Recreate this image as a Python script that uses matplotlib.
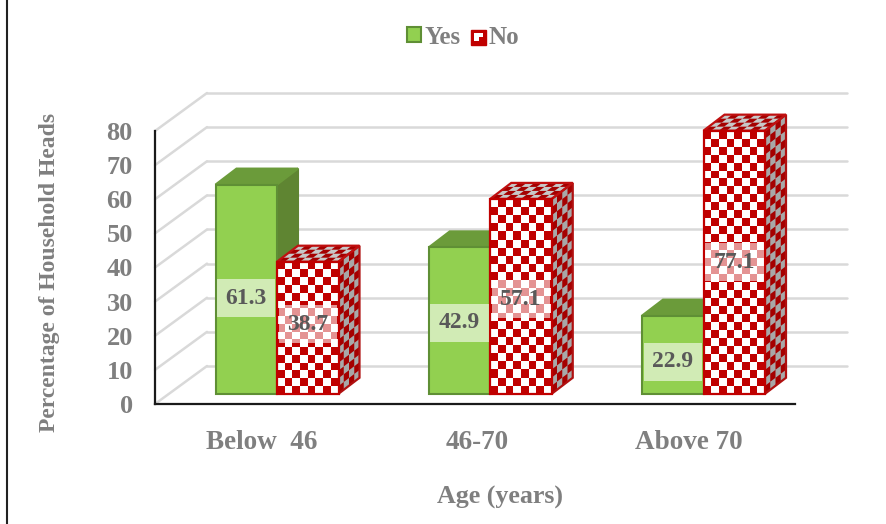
import matplotlib
matplotlib.use("Agg")
import matplotlib.pyplot as plt
from matplotlib.collections import PolyCollection
from matplotlib.patches import Polygon, Patch, Rectangle
from matplotlib.legend_handler import HandlerBase

plt.rcParams['font.family'] = ['Liberation Serif', 'DejaVu Serif']
plt.rcParams['font.weight'] = 'bold'

# Data
categories = ["Below  46", "46-70", "Above 70"]
yes_values = [61.3, 42.9, 22.9]
no_values = [38.7, 57.1, 77.1]
y_ticks = [0, 10, 20, 30, 40, 50, 60, 70, 80]

# Styles
GREEN, GREEN_EDGE, GREEN_TOP, GREEN_SIDE = '#92D050', '#5F8F35', '#6B9B3A', '#5F8532'
RED, RED_DARK = '#C00000', '#A50000'
TEXT_GRAY, LABEL_GRAY, GRID = '#7F7F7F', '#595959', '#D9D9D9'

W, H = 886, 524
fig = plt.figure(figsize=(W / 100, H / 100), dpi=100, facecolor='white')
ax = fig.add_axes([155 / W, (H - 404) / H, 640 / W, 273 / H])
ax.set_ylim(0, 80)
sx = 213.25                # pixels per category
sy = 273 / 80              # pixels per percentage point
ax.set_xlim((155 - 277) / sx, (795 - 277) / sx)
ax.patch.set_visible(False)

bar_w = 61.5 / sx
base = 3.0
depth_x, depth_y = 21 / sx, 16 / sy
wall_dx, wall_dy = 52 / sx, 38 / sy
x0, x1 = ax.get_xlim()

# Back wall gridlines and side wall diagonals
for v in y_ticks:
    ax.plot([x0 + wall_dx, x1 + wall_dx], [v + wall_dy, v + wall_dy], color=GRID, lw=1.8,
            clip_on=False, zorder=1, solid_capstyle='round')
    ax.plot([x0, x0 + wall_dx], [v, v + wall_dy], color=GRID, lw=1.8,
            clip_on=False, zorder=1, solid_capstyle='round')


def face(x, y, ux, uy, vx, vy, fc, ec, z):
    ax.add_patch(Polygon([(x, y), (x + ux, y + uy), (x + ux + vx, y + uy + vy), (x + vx, y + vy)],
                         closed=True, fc=fc, ec=ec, lw=1.5, clip_on=False, zorder=z, joinstyle='miter'))


def checks(x, y, ux, uy, vx, vy, nu, nv, c1, c2, edge, z):
    face(x, y, ux, uy, vx, vy, c2, 'none', z)
    polys = []
    for i in range(nu):
        for j in range(nv):
            if (i + j) % 2 == 0:
                a, b = i / nu, j / nv
                c, d = (i + 1) / nu, (j + 1) / nv
                polys.append([(x + a * ux + b * vx, y + a * uy + b * vy),
                              (x + c * ux + b * vx, y + c * uy + b * vy),
                              (x + c * ux + d * vx, y + c * uy + d * vy),
                              (x + a * ux + d * vx, y + a * uy + d * vy)])
    ax.add_collection(PolyCollection(polys, facecolors=c1, edgecolors='none', clip_on=False, zorder=z + 0.01),
                      autolim=False)
    ax.add_patch(Polygon([(x, y), (x + ux, y + uy), (x + ux + vx, y + uy + vy), (x + vx, y + vy)],
                         closed=True, fc='none', ec=edge, lw=1.6, clip_on=False, zorder=z + 0.02))


label_shift_yes = [-2.7, -0.6, -2.0]     # label offset from bar middle
label_shift_no = [1.0, -0.8, 0.0]

for i, (yv, nv) in enumerate(zip(yes_values, no_values)):
    z = 3 + i
    # green bar
    xl = i - bar_w
    face(xl + bar_w, base, depth_x, depth_y, 0, yv, GREEN_SIDE, GREEN_SIDE, z)
    face(xl, base + yv, bar_w, 0, depth_x, depth_y, GREEN_TOP, GREEN_TOP, z)
    ax.bar(xl, yv, bar_w, bottom=base, align='edge', color=GREEN, edgecolor=GREEN_EDGE, lw=1.5,
           clip_on=False, zorder=z + 0.1)
    # red checkered bar
    rows = max(2, int(round(nv * sy / 8)))
    z2 = z + 0.2
    checks(i + bar_w, base, depth_x, depth_y, 0, nv, 4, rows, RED_DARK, '#A8A8A8', '#B01010', z2)
    checks(i, base + nv, bar_w, 0, depth_x, depth_y, 8, 4, RED_DARK, '#C8C8C8', '#C01010', z2)
    checks(i, base, bar_w, 0, 0, nv, 8, rows, RED, 'white', RED, z2 + 0.1)
    # labels
    box = dict(boxstyle='square,pad=0.36', fc='white', ec='none', alpha=0.58)
    ax.text(i - bar_w / 2, base + yv / 2 + label_shift_yes[i], f"{yv}", ha='center', va='center', fontsize=17,
            color=LABEL_GRAY, bbox=box, zorder=20, clip_on=False)
    ax.text(i + bar_w / 2, base + nv / 2 + label_shift_no[i], f"{nv}", ha='center', va='center', fontsize=17,
            color=LABEL_GRAY, bbox=box, zorder=20, clip_on=False)

# Axes
for s in ('top', 'right'):
    ax.spines[s].set_visible(False)
for s in ('left', 'bottom'):
    ax.spines[s].set_linewidth(1.6)
    ax.spines[s].set_color('#1a1a1a')
    ax.spines[s].set_zorder(30)
ax.set_yticks(y_ticks)
ax.set_yticklabels([str(v) for v in y_ticks], fontsize=19, color=TEXT_GRAY)
ax.tick_params(axis='y', length=0, pad=16)
ax.set_xticks([-0.07, 0.94, 1.93])
ax.set_xticklabels(categories, fontsize=19.5, color=TEXT_GRAY)
ax.tick_params(axis='x', length=0, pad=19)

fig.text(50 / W, 1 - 272 / H, "Percentage of Household Heads", rotation=90, ha='center', va='center',
         fontsize=17, color=TEXT_GRAY)
fig.text(500 / W, 1 - 497 / H, "Age (years)", ha='center', va='center', fontsize=18.7, color=TEXT_GRAY)


class CheckHandler(HandlerBase):
    def create_artists(self, legend, orig, xd, yd, width, height, fontsize, trans):
        s = height
        a = Rectangle((xd, yd), s, s, fc=RED, ec=RED, lw=1, transform=trans)
        b = Rectangle((xd + 0.2 * s, yd + 0.25 * s), 0.6 * s, 0.55 * s, fc='white', ec='none', transform=trans)
        c = Rectangle((xd + 0.55 * s, yd + 0.25 * s), 0.25 * s, 0.25 * s, fc=RED, ec='none', transform=trans)
        return [a, b, c]


h_yes = Patch(fc=GREEN, ec=GREEN_EDGE, lw=1.5, label='Yes')
h_no = Patch(fc=RED, ec=RED, label='No')
leg = fig.legend(handles=[h_yes, h_no], loc='center', bbox_to_anchor=(463 / W, 1 - 37 / H), ncol=2,
                 frameon=False, fontsize=18, handlelength=0.56, handleheight=0.56, handletextpad=0.15,
                 columnspacing=0.4, labelcolor=TEXT_GRAY, handler_map={h_no: CheckHandler()})

# Left border rule
fig.add_artist(plt.Line2D([7 / W, 7 / W], [0, 1], color='#222222', lw=1.5))

fig.savefig('out.png', dpi=100)
